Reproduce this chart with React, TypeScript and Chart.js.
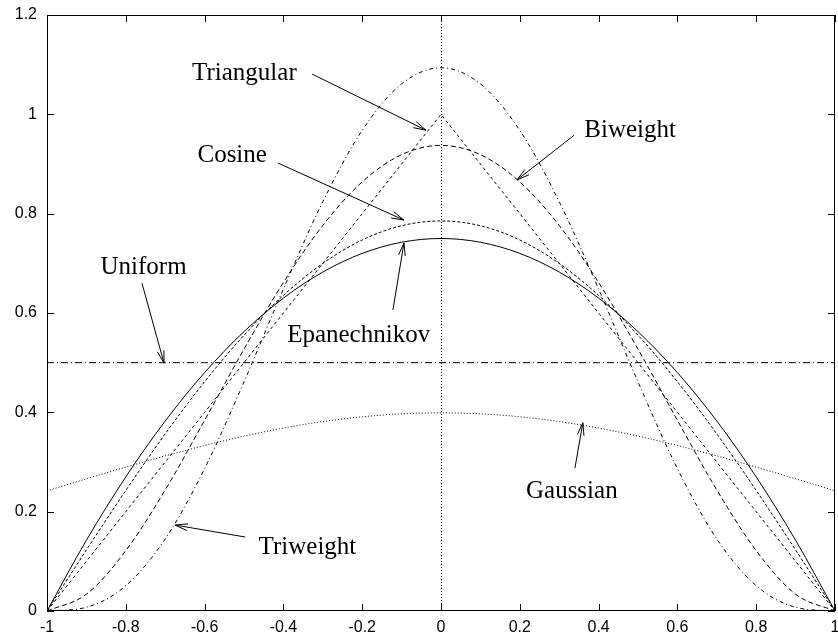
import { useEffect, useRef } from 'react';
import { Chart, registerables } from 'chart.js';

Chart.register(...registerables);

const xs = [-1, -0.9, -0.8, -0.7, -0.6, -0.5, -0.4, -0.3, -0.2, -0.1, 0, 0.1, 0.2, 0.3, 0.4, 0.5, 0.6, 0.7, 0.8, 0.9, 1];

const epanechnikov = [0, 0.1425, 0.27, 0.3825, 0.48, 0.5625, 0.63, 0.6825, 0.72, 0.7425, 0.75, 0.7425, 0.72, 0.6825, 0.63, 0.5625, 0.48, 0.3825, 0.27, 0.1425, 0];
const uniform = [0.5, 0.5, 0.5, 0.5, 0.5, 0.5, 0.5, 0.5, 0.5, 0.5, 0.5, 0.5, 0.5, 0.5, 0.5, 0.5, 0.5, 0.5, 0.5, 0.5, 0.5];
const triangular = [0, 0.1, 0.2, 0.3, 0.4, 0.5, 0.6, 0.7, 0.8, 0.9, 1, 0.9, 0.8, 0.7, 0.6, 0.5, 0.4, 0.3, 0.2, 0.1, 0];
const biweight = [0, 0.0338, 0.1215, 0.2438, 0.384, 0.5273, 0.6615, 0.7763, 0.864, 0.9188, 0.9375, 0.9188, 0.864, 0.7763, 0.6615, 0.5273, 0.384, 0.2438, 0.1215, 0.0338, 0];
const triweight = [0, 0.0075, 0.051, 0.1451, 0.2867, 0.4614, 0.6483, 0.8242, 0.9677, 1.0613, 1.0938, 1.0613, 0.9677, 0.8242, 0.6483, 0.4614, 0.2867, 0.1451, 0.051, 0.0075, 0];
const cosine = [0, 0.1229, 0.2427, 0.3566, 0.4616, 0.5554, 0.6354, 0.6998, 0.747, 0.7757, 0.7854, 0.7757, 0.747, 0.6998, 0.6354, 0.5554, 0.4616, 0.3566, 0.2427, 0.1229, 0];
const gaussian = [0.242, 0.2661, 0.2897, 0.3123, 0.3332, 0.3521, 0.3683, 0.3814, 0.391, 0.397, 0.3989, 0.397, 0.391, 0.3814, 0.3683, 0.3521, 0.3332, 0.3123, 0.2897, 0.2661, 0.242];

const annotations = [
  { text: 'Triangular', tx: -0.499, ty: 1.069, from: [-0.327, 1.081], to: [-0.038, 0.968] },
  { text: 'Biweight', tx: 0.48, ty: 0.954, from: [0.338, 0.958], to: [0.193, 0.868] },
  { text: 'Cosine', tx: -0.53, ty: 0.904, from: [-0.414, 0.902], to: [-0.094, 0.787] },
  { text: 'Uniform', tx: -0.755, ty: 0.6785, from: [-0.759, 0.66], to: [-0.703, 0.499] },
  { text: 'Epanechnikov', tx: -0.209, ty: 0.542, from: [-0.122, 0.606], to: [-0.094, 0.741] },
  { text: 'Gaussian', tx: 0.332, ty: 0.2275, from: [0.34, 0.288], to: [0.36, 0.379] },
  { text: 'Triweight', tx: -0.339, ty: 0.115, from: [-0.497, 0.149], to: [-0.675, 0.173] },
];

const series = [
  { label: 'Epanechnikov', values: epanechnikov, dash: [] as number[] },
  { label: 'Uniform', values: uniform, dash: [7, 3, 1, 3] },
  { label: 'Triangular', values: triangular, dash: [3, 3] },
  { label: 'Biweight', values: biweight, dash: [5, 3] },
  { label: 'Triweight', values: triweight, dash: [4, 3, 1, 3] },
  { label: 'Cosine', values: cosine, dash: [3, 2] },
  { label: 'Gaussian', values: gaussian, dash: [1, 2] },
];

const fmt = (v: number) => String(Math.round(v * 10) / 10);

export default function App() {
  const ref = useRef<HTMLCanvasElement>(null);

  useEffect(() => {
    document.body.style.margin = '0';
    const canvas = ref.current;
    if (!canvas) return;

    const framePlugin = {
      id: 'gnuframe',
      beforeDatasetsDraw(chart: any) {
        const { ctx, chartArea, scales } = chart;
        const x0 = Math.round(scales.x.getPixelForValue(0)) + 0.5;
        ctx.save();
        ctx.strokeStyle = '#000';
        ctx.lineWidth = 1;
        ctx.setLineDash([1, 2]);
        ctx.beginPath();
        ctx.moveTo(x0, chartArea.top);
        ctx.lineTo(x0, chartArea.bottom);
        ctx.stroke();
        ctx.restore();
      },
      afterDatasetsDraw(chart: any) {
        const { ctx, chartArea, scales } = chart;
        const { left, right, top, bottom } = chartArea;
        ctx.save();
        ctx.strokeStyle = '#000';
        ctx.lineWidth = 1;
        ctx.setLineDash([]);
        ctx.strokeRect(left + 0.5, top + 0.5, right - left - 1, bottom - top - 1);
        const tl = 7;
        ctx.beginPath();
        scales.x.ticks.forEach((t: any) => {
          const px = Math.round(scales.x.getPixelForValue(t.value)) + 0.5;
          ctx.moveTo(px, bottom);
          ctx.lineTo(px, bottom - tl);
          ctx.moveTo(px, top);
          ctx.lineTo(px, top + tl);
        });
        scales.y.ticks.forEach((t: any) => {
          const py = Math.round(scales.y.getPixelForValue(t.value)) + 0.5;
          ctx.moveTo(left, py);
          ctx.lineTo(left + tl, py);
          ctx.moveTo(right, py);
          ctx.lineTo(right - tl, py);
        });
        ctx.stroke();

        ctx.fillStyle = '#000';
        ctx.font = '25px "Liberation Serif", serif';
        ctx.textAlign = 'center';
        ctx.textBaseline = 'alphabetic';
        annotations.forEach((a) => {
          ctx.fillText(a.text, scales.x.getPixelForValue(a.tx), scales.y.getPixelForValue(a.ty));
          const fx = scales.x.getPixelForValue(a.from[0]);
          const fy = scales.y.getPixelForValue(a.from[1]);
          const ex = scales.x.getPixelForValue(a.to[0]);
          const ey = scales.y.getPixelForValue(a.to[1]);
          const ang = Math.atan2(ey - fy, ex - fx);
          const hl = 13;
          const ha = 0.26;
          ctx.beginPath();
          ctx.moveTo(fx, fy);
          ctx.lineTo(ex, ey);
          ctx.moveTo(ex - hl * Math.cos(ang - ha), ey - hl * Math.sin(ang - ha));
          ctx.lineTo(ex, ey);
          ctx.lineTo(ex - hl * Math.cos(ang + ha), ey - hl * Math.sin(ang + ha));
          ctx.stroke();
        });
        ctx.restore();
      },
    };

    const chart = new Chart(canvas, {
      type: 'line',
      data: {
        datasets: series.map((s) => ({
          label: s.label,
          data: xs.map((x, i) => ({ x, y: s.values[i] })),
          borderColor: '#000',
          borderWidth: 1,
          borderDash: s.dash,
          pointRadius: 0,
          fill: false,
          cubicInterpolationMode: s.label === 'Triangular' ? 'default' : 'monotone',
          tension: 0,
        })),
      },
      options: {
        animation: false,
        responsive: false,
        devicePixelRatio: 1,
        layout: { padding: { left: 0, top: 15, right: 3, bottom: 0 } },
        plugins: { legend: { display: false }, tooltip: { enabled: false } },
        scales: {
          x: {
            type: 'linear',
            min: -1,
            max: 1,
            grid: { display: false, drawTicks: false },
            border: { display: false },
            ticks: {
              stepSize: 0.2,
              padding: 7,
              color: '#000',
              maxRotation: 0,
              autoSkip: false,
              font: { family: '"Liberation Sans", Arial, sans-serif', size: 16 },
              callback: (v: any) => fmt(Number(v)),
            },
            afterFit(s: any) {
              s.height = 28;
              s.paddingLeft = 0;
              s.paddingRight = 0;
            },
          },
          y: {
            type: 'linear',
            min: 0,
            max: 1.2,
            grid: { display: false, drawTicks: false },
            border: { display: false },
            ticks: {
              stepSize: 0.2,
              padding: 10,
              color: '#000',
              font: { family: '"Liberation Sans", Arial, sans-serif', size: 16 },
              callback: (v: any) => fmt(Number(v)),
            },
            afterFit(s: any) {
              s.width = 47;
              s.paddingTop = 0;
              s.paddingBottom = 0;
            },
          },
        },
      },
      plugins: [framePlugin],
    } as any);

    return () => chart.destroy();
  }, []);

  return (
    <div style={{ width: 838, height: 639 }}>
      <canvas ref={ref} width={838} height={639} style={{ display: 'block' }} />
    </div>
  );
}
